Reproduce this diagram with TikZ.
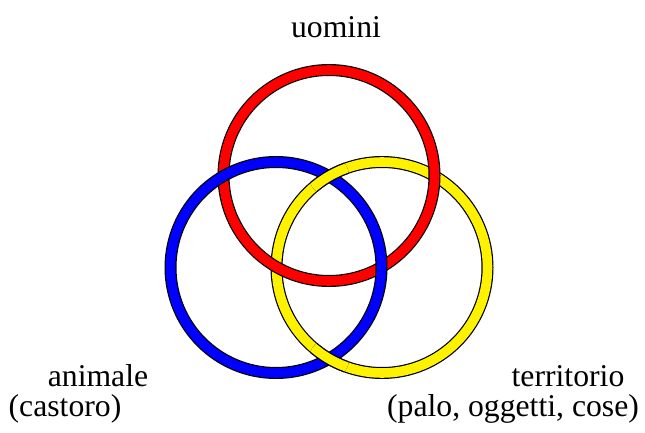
\documentclass[tikz,border=0pt]{standalone}
\usepackage{fontspec}
\setmainfont{Liberation Serif}
\newcommand\myring[2]{%
  \draw[ringout] (#1) circle[radius=105.5pt];
  \draw[ringin,draw=#2] (#1) circle[radius=105.5pt];}
\begin{document}
\begin{tikzpicture}[x=1pt,y=-1pt,
  ringout/.style={draw=black,line width=12pt},
  ringin/.style={line width=9.6pt},
  lbl/.style={anchor=base,inner sep=0pt,font=\fontsize{31.7}{38}\selectfont}]
\useasboundingbox (0,0) rectangle (645,433);
\coordinate (R) at (329,175.5);
\coordinate (B) at (276,267.5);
\coordinate (Y) at (382,267.5);
\coordinate (X1) at (329,176);
\coordinate (X2) at (329,359);
\myring{Y}{yellow}
\myring{R}{red}
\myring{B}{blue}
\begin{scope}
  \clip (X1) circle[radius=20pt] (X2) circle[radius=20pt];
  \myring{Y}{yellow}
\end{scope}
\node[lbl] (u) at (336,38) {uomini};
\node[lbl] (a) at (98,386) {animale};
\node[lbl] (c) at (65,416) {(castoro)};
\node[lbl] (t) at (568,386) {territorio};
\node[lbl] (p) at (513,416) {(palo, oggetti, cose)};
\end{tikzpicture}
\end{document}
